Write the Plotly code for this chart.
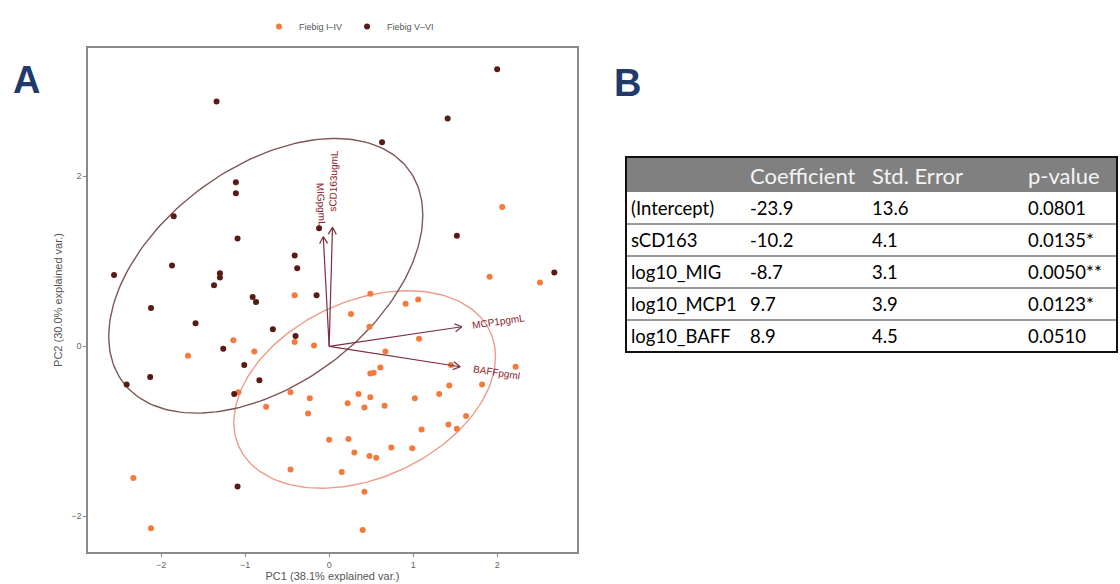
import numpy as np
import plotly.graph_objects as go

W, H = 1120, 584

# PCA scores (PC1, PC2) by Fiebig stage
early_pc1 = [-0.41, -0.41, -0.18, 0.26, -1.14, -0.89, -1.68, -1.08, -0.46, -0.23, -0.75, -0.25, 0.22,
             0.35, 0.00, 0.23, 0.30, -0.46, 0.15, -2.33, -2.12, 2.06, 1.91, 2.51, 0.49, 0.91, 1.06, 0.48,
             1.07, 0.67, 2.22, 0.61, 0.49, 0.53, 1.45, 1.43, 1.82, 1.31, 1.02, 0.49, 0.42, 0.66, 1.63,
             1.42, 1.52, 1.10, 0.74, 0.99, 0.48, 0.56, 0.42, 0.40]
early_pc2 = [0.60, 0.05, 0.01, 0.38, 0.07, -0.06, -0.11, -0.54, -0.54, -0.61, -0.71, -0.79, -0.67,
             -0.56, -1.10, -1.09, -1.25, -1.45, -1.48, -1.55, -2.14, 1.64, 0.82, 0.75, 0.62, 0.50, 0.55,
             0.23, 0.09, -0.06, -0.24, -0.25, -0.32, -0.31, -0.22, -0.46, -0.45, -0.56, -0.61, -0.60,
             -0.72, -0.70, -0.82, -0.92, -0.97, -0.98, -1.19, -1.20, -1.29, -1.31, -1.71, -2.16]
late_pc1 = [-1.34, -1.11, -1.11, -1.85, -1.09, -0.12, -0.41, -0.38, -1.87, -2.56, -1.30, -1.30, -1.37,
            -0.91, -0.87, -0.15, -2.12, -1.59, -0.67, -0.40, -1.26, -1.01, -2.13, -2.41, -0.83, -1.13,
            -1.09, 2.00, 1.41, 0.63, 1.52, 2.68]
late_pc2 = [2.88, 1.93, 1.80, 1.53, 1.27, 1.39, 1.07, 0.92, 0.95, 0.84, 0.86, 0.81, 0.72, 0.58, 0.52,
            0.60, 0.45, 0.27, 0.20, 0.12, -0.03, -0.22, -0.36, -0.45, -0.40, -0.56, -1.65, 3.26, 2.68,
            2.40, 1.30, 0.87]

group_names = ["Fiebig I\u2013IV", "Fiebig V\u2013VI"]

# Variable loadings (arrow tips)
var_names = ["MIGpgmL", "sCD163ugmL", "MCP1pgmL", "BAFFpgml"]
load_pc1 = [-0.07, 0.04, 1.58, 1.56]
load_pc2 = [1.29, 1.40, 0.23, -0.24]

# Regression table
table_header = ["", "Coefficient", "Std. Error", "p-value"]
table_terms = ["(Intercept)", "sCD163", "log10_MIG", "log10_MCP1", "log10_BAFF"]
table_coef = ["-23.9", "-10.2", "-8.7", "9.7", "8.9"]
table_se = ["13.6", "4.1", "3.1", "3.9", "4.5"]
table_p = ["0.0801", "0.0135*", "0.0050**", "0.0123*", "0.0510"]

COL_EARLY = "#F47A3C"
COL_LATE = "#5A1A14"
ELL_EARLY = "#EE9C88"
ELL_LATE = "#7E5656"
ARROW_COL = "#7E2E3E"
LABEL_COL = "#8B1A2A"

# plot frame in pixels
X0, X1, Y0, Y1 = 88, 577, 48, 552
xr = [-2.87, 2.95]
yr = [-2.42, 3.51]
px_per_x = (X1 - X0) / (xr[1] - xr[0])
px_per_y = (Y1 - Y0) / (yr[1] - yr[0])


def px(x):
    return x / W


def py(y):
    return 1 - y / H


def data_ellipse(xs, ys, prob=0.68, n=200):
    pts = np.column_stack([xs, ys])
    mu = pts.mean(axis=0)
    sigma = np.cov(pts, rowvar=False)
    r = np.sqrt(-2 * np.log(1 - prob))
    t = np.linspace(0, 2 * np.pi, n)
    circ = np.column_stack([np.cos(t), np.sin(t)])
    ell = r * circ @ np.linalg.cholesky(sigma).T + mu
    return ell[:, 0], ell[:, 1]


fig = go.Figure()

for xs, ys, ecol in [(early_pc1, early_pc2, ELL_EARLY), (late_pc1, late_pc2, ELL_LATE)]:
    ex, ey = data_ellipse(xs, ys)
    fig.add_trace(go.Scatter(x=ex, y=ey, mode="lines", line=dict(color=ecol, width=1.4),
                             showlegend=False, hoverinfo="skip"))

for xs, ys, col, name in [(early_pc1, early_pc2, COL_EARLY, group_names[0]),
                          (late_pc1, late_pc2, COL_LATE, group_names[1])]:
    fig.add_trace(go.Scatter(x=xs, y=ys, mode="markers", name=name,
                             marker=dict(color=col, size=6, line=dict(width=0))))

# loading arrows with open heads
head_len = 8.0
for name, lx, ly in zip(var_names, load_pc1, load_pc2):
    fig.add_trace(go.Scatter(x=[0, lx], y=[0, ly], mode="lines", line=dict(color=ARROW_COL, width=1.2),
                             showlegend=False, hoverinfo="skip"))
    dx, dy = lx * px_per_x, ly * px_per_y
    L = np.hypot(dx, dy)
    ux, uy = dx / L, dy / L
    hx, hy = [], []
    for a in (np.radians(30), -np.radians(30)):
        bx = -(ux * np.cos(a) - uy * np.sin(a)) * head_len
        by = -(ux * np.sin(a) + uy * np.cos(a)) * head_len
        hx += [lx + bx / px_per_x, lx, None]
        hy += [ly + by / px_per_y, ly, None]
    fig.add_trace(go.Scatter(x=hx, y=hy, mode="lines", line=dict(color=ARROW_COL, width=1.2),
                             showlegend=False, hoverinfo="skip"))
    ang = np.degrees(np.arctan(ly / lx))
    tw = len(name) * 6.2
    off = 0.75 * tw
    fig.add_annotation(x=lx, y=ly, xref="x", yref="y", text=name, showarrow=False,
                       textangle=-ang, xanchor="center", yanchor="middle",
                       xshift=off * ux, yshift=off * uy,
                       font=dict(size=10, color=LABEL_COL, family="Liberation Sans"))

fig.update_xaxes(domain=[px(X0), px(X1)], range=xr, showgrid=False, zeroline=False,
                 showline=True, mirror=True, linecolor="#8a8a8a", linewidth=1.5,
                 ticks="outside", ticklen=3, tickcolor="#8a8a8a", tickvals=[-2, -1, 0, 1, 2],
                 tickfont=dict(size=9, color="#666666"),
                 title=dict(text="PC1 (38.1% explained var.)", font=dict(size=11, color="#555555"),
                            standoff=2))
fig.update_yaxes(domain=[py(Y1), py(Y0)], range=yr, showgrid=False, zeroline=False,
                 showline=True, mirror=True, linecolor="#8a8a8a", linewidth=1.5,
                 ticks="outside", ticklen=3, tickcolor="#8a8a8a", tickvals=[-2, 0, 2],
                 tickfont=dict(size=9, color="#666666"),
                 title=dict(text="PC2 (30.0% explained var.)", font=dict(size=11, color="#555555"),
                            standoff=6))

# panel letters
for letter, lx_, ly_ in [("A", 26, 80), ("B", 627, 83)]:
    fig.add_annotation(x=px(lx_), y=py(ly_), xref="paper", yref="paper", text=f"<b>{letter}</b>",
                       showarrow=False, xanchor="center", yanchor="middle",
                       font=dict(size=38, color="#1F3A6B", family="Liberation Sans"))

# regression table
TX0, TX1, TY0 = 626, 1117, 157
head_h, row_h = 35, 32
col_x = [629, 748, 870, 1026]
TY1 = TY0 + head_h + row_h * len(table_terms)
fig.add_shape(type="rect", xref="paper", yref="paper", x0=px(TX0), x1=px(TX1), y0=py(TY0),
              y1=py(TY0 + head_h), fillcolor="#808080", line=dict(width=0), layer="below")
for i in range(1, len(table_terms)):
    yy = TY0 + head_h + row_h * i
    fig.add_shape(type="line", xref="paper", yref="paper", x0=px(TX0), x1=px(TX1), y0=py(yy), y1=py(yy),
                  line=dict(color="#9a9a9a", width=2))
fig.add_shape(type="rect", xref="paper", yref="paper", x0=px(TX0), x1=px(TX1), y0=py(TY0), y1=py(TY1),
              line=dict(color="#111111", width=2))

for j, h in enumerate(table_header):
    if h:
        fig.add_annotation(x=px(col_x[j]), y=py(TY0 + head_h / 2 + 1), xref="paper", yref="paper", text=h,
                           showarrow=False, xanchor="left", yanchor="middle",
                           font=dict(size=22, color="#f4f4f4", family="Lato"))
for i, cells in enumerate(zip(table_terms, table_coef, table_se, table_p)):
    yc = TY0 + head_h + row_h * i + row_h / 2
    for j, c in enumerate(cells):
        fig.add_annotation(x=px(col_x[j]), y=py(yc), xref="paper", yref="paper", text=c,
                           showarrow=False, xanchor="left", yanchor="middle",
                           font=dict(size=18.5, color="#000000", family="Lato"))

fig.update_layout(width=W, height=H, margin=dict(l=0, r=0, t=0, b=0),
                  paper_bgcolor="white", plot_bgcolor="white",
                  font=dict(family="Liberation Sans"),
                  legend=dict(orientation="h", x=px(349), xanchor="center", y=py(12), yanchor="top",
                              font=dict(size=9, color="#555555"), itemwidth=30,
                              bgcolor="rgba(0,0,0,0)"))

fig.write_html("out.html")
